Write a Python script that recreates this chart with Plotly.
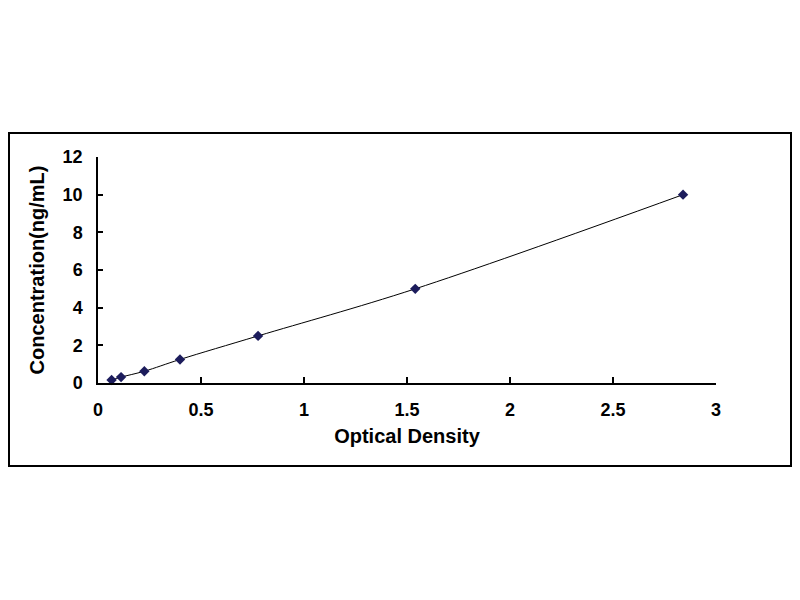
import plotly.graph_objects as go

od = [0.066, 0.112, 0.225, 0.398, 0.777, 1.54, 2.84]
conc = [0.156, 0.312, 0.625, 1.25, 2.5, 5, 10]
x_ticks = [0, 0.5, 1, 1.5, 2, 2.5, 3]
x_labels = ["0", "0.5", "1", "1.5", "2", "2.5", "3"]
y_ticks = [0, 2, 4, 6, 8, 10, 12]
y_labels = ["0", "2", "4", "6", "8", "10", "12"]

fig = go.Figure()
fig.add_trace(go.Scatter(
    x=od, y=conc, mode="lines+markers",
    line=dict(color="black", width=1, shape="spline"),
    marker=dict(symbol="diamond", size=8, color="#1c1c5c"),
    cliponaxis=False, showlegend=False,
))

# figure sized to fit inside the page's 8px body margin (no scrollbars)
FW, FH = 784, 584
L, T = 90, 149
W, H = 618, 226
R, B = FW - L - W, FH - T - H
X0, Y0 = L, T + H  # plot origin in figure pixels
fig.add_shape(type="rect", xref="paper", yref="paper",
              x0=(1 - X0) / W, x1=(783 - X0) / W,
              y0=(Y0 - 458) / H, y1=(Y0 - 125) / H,
              line=dict(color="black", width=2), fillcolor="rgba(0,0,0,0)", layer="below")

FAM = "Liberation Sans, Arial, sans-serif"
tick_font = dict(family=FAM, size=18, color="black", weight="bold")
title_font = dict(family=FAM, size=20, color="black", weight="bold")
fig.update_layout(
    width=FW, height=FH,
    margin=dict(l=L, r=R, t=T, b=B),
    paper_bgcolor="white", plot_bgcolor="white",
    font=dict(family=FAM, color="black"),
    xaxis=dict(range=[0, 3], tickvals=x_ticks, ticktext=x_labels,
               showline=True, linecolor="black", linewidth=1.5,
               ticks="inside", ticklen=6, tickcolor="black", tickwidth=1.5,
               showgrid=False, zeroline=False, tickfont=tick_font,
               ticklabelstandoff=10,
               title=dict(text="Optical Density", font=title_font, standoff=10)),
    yaxis=dict(range=[0, 12], tickvals=y_ticks, ticktext=y_labels,
               showline=True, linecolor="black", linewidth=1.5,
               ticks="inside", ticklen=5, tickcolor="black", tickwidth=1.5,
               showgrid=False, zeroline=False, tickfont=tick_font,
               ticklabelstandoff=10,
               title=dict(text="Concentration(ng/mL)", font=title_font, standoff=13)),
)
fig.write_html("out.html")
